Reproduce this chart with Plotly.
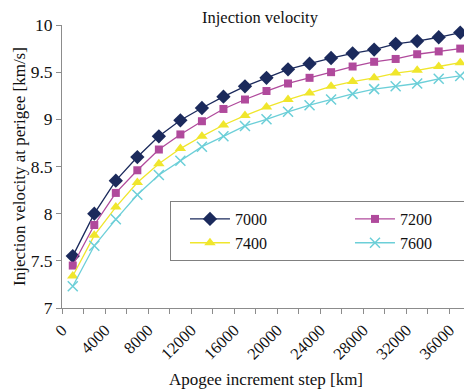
import plotly.graph_objects as go

apogee_step = [1000, 3000, 5000, 7000, 9000, 11000, 13000, 15000, 17000, 19000,
               21000, 23000, 25000, 27000, 29000, 31000, 33000, 35000, 37000]

v_7000 = [7.55, 8.00, 8.35, 8.60, 8.82, 8.99, 9.12, 9.24, 9.35, 9.44,
          9.53, 9.59, 9.65, 9.70, 9.74, 9.80, 9.83, 9.87, 9.92]
v_7200 = [7.45, 7.88, 8.22, 8.46, 8.68, 8.84, 8.98, 9.11, 9.21, 9.30,
          9.38, 9.44, 9.50, 9.56, 9.61, 9.64, 9.69, 9.72, 9.75]
v_7400 = [7.34, 7.77, 8.07, 8.33, 8.53, 8.69, 8.82, 8.94, 9.04, 9.13,
          9.21, 9.28, 9.35, 9.40, 9.44, 9.49, 9.52, 9.56, 9.60]
v_7600 = [7.23, 7.66, 7.94, 8.20, 8.41, 8.56, 8.71, 8.82, 8.93, 9.00,
          9.08, 9.15, 9.21, 9.27, 9.32, 9.35, 9.38, 9.43, 9.46]

series_names = ["7000", "7200", "7400", "7600"]
x_tick_vals = list(range(0, 36001, 4000))
x_tick_text = [str(v) for v in x_tick_vals]
y_tick_vals = [7, 7.5, 8, 8.5, 9, 9.5, 10]
y_tick_text = ["7", "7.5", "8", "8.5", "9", "9.5", "10"]

styles = [
    dict(color="#1b2a5c", symbol="diamond", size=11),
    dict(color="#b04a9c", symbol="square", size=8),
    dict(color="#f0e62c", symbol="triangle-up", size=10),
    dict(color="#6ccfd8", symbol="x-thin-open", size=10),
]

FONT = "Times New Roman, Liberation Serif, DejaVu Serif, serif"

fig = go.Figure()
for name, vals, st in zip(series_names, [v_7000, v_7200, v_7400, v_7600], styles):
    marker = dict(symbol=st["symbol"], size=st["size"], color=st["color"])
    if st["symbol"] == "x-thin-open":
        marker["line"] = dict(color=st["color"], width=1.5)
    fig.add_trace(go.Scatter(
        x=apogee_step, y=vals, name=name, mode="lines+markers",
        line=dict(color=st["color"], width=1.3),
        marker=marker,
    ))

# page body has an 8px margin: figure drawn at (8, 8)
fig.update_layout(
    width=464, height=382,
    margin=dict(l=54, r=1, t=17, b=82, autoexpand=False),
    paper_bgcolor="white", plot_bgcolor="white",
    font=dict(family=FONT, size=17, color="#111111"),
    title=dict(text="Injection velocity", x=0.543, xanchor="center",
               y=0.99, yanchor="top", pad=dict(t=0, b=0),
               font=dict(family=FONT, size=16.5)),
    showlegend=True,
    legend=dict(
        orientation="h", x=0.264, xanchor="left", y=0.378, yanchor="top",
        bordercolor="#808080", borderwidth=1, bgcolor="white",
        entrywidth=96, entrywidthmode="pixels", indentation=14,
        font=dict(family=FONT, size=16), itemwidth=40,
    ),
    xaxis=dict(
        range=[0, 38000], showgrid=False, zeroline=False,
        showline=True, linecolor="#8c8c8c", linewidth=1,
        ticks="outside", ticklen=5, tickcolor="#8c8c8c",
        tickvals=x_tick_vals, ticktext=x_tick_text, tickangle=-45,
        tickfont=dict(family=FONT, size=16.5),
        minor=dict(dtick=2000, tick0=0, ticks="outside", ticklen=5, tickcolor="#8c8c8c"),
    ),
    yaxis=dict(
        range=[7, 10], showgrid=False, zeroline=False,
        showline=True, linecolor="#8c8c8c", linewidth=1,
        ticks="outside", ticklen=5, tickcolor="#8c8c8c",
        tickvals=y_tick_vals, ticktext=y_tick_text,
        tickfont=dict(family=FONT, size=17.5),
    ),
    annotations=[
        dict(text="Apogee increment step [km]", xref="paper", yref="paper",
             x=0.498, y=-0.251, xanchor="center", yanchor="middle",
             showarrow=False, font=dict(family=FONT, size=17)),
        dict(text="Injection velocity at perigee [km/s]", xref="paper", yref="paper",
             x=-0.104, y=0.5, xanchor="center", yanchor="middle", textangle=-90,
             showarrow=False, font=dict(family=FONT, size=17)),
    ],
)

fig.write_html("out.html")
